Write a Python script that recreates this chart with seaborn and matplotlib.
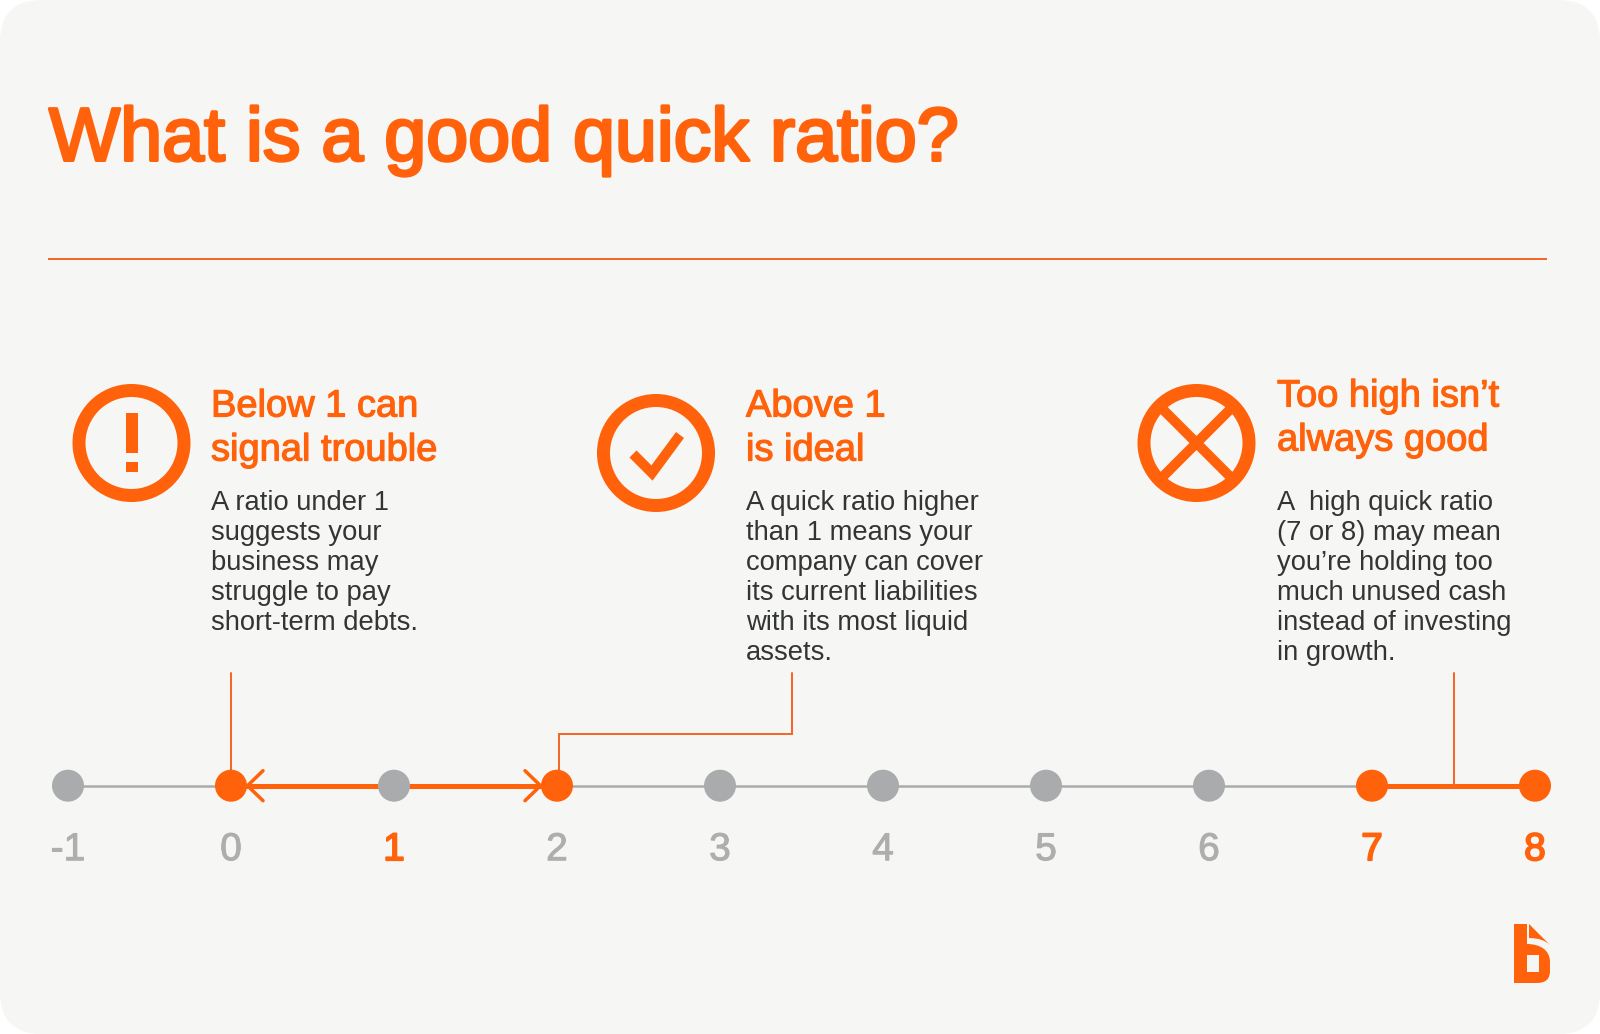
import pandas as pd
import seaborn as sns
import matplotlib.pyplot as plt
import matplotlib.patheffects as pe
from matplotlib.patches import Circle, FancyBboxPatch, PathPatch, Rectangle
from matplotlib.path import Path

# ---Chart values---
ratio_ticks = [-1, 0, 1, 2, 3, 4, 5, 6, 7, 8]
marked_ratios = [0, 2, 7, 8]
label_marked = [1, 7, 8]
ideal_range = [0, 2]
high_range = [7, 8]
high_pointer = 7.5

title_text = "What is a good quick ratio?"
headings = [["Below 1 can", "signal trouble"], ["Above 1", "is ideal"], ["Too high isn\u2019t", "always good"]]
bodies = [
    ["A ratio under 1", "suggests your", "business may", "struggle to pay", "short-term debts."],
    ["A quick ratio higher", "than 1 means your", "company can cover", "its current liabilities", "with its most liquid", "assets."],
    ["A  high quick ratio", "(7 or 8) may mean", "you\u2019re holding too", "much unused cash", "instead of investing", "in growth."],
]

ORANGE = "#FF620A"
THIN = "#F4682A"
GRAY = "#A9ABAC"
LABEL_GRAY = "#AEAEAE"
CARD = "#F6F6F4"
INK = "#333535"
W, H = 1600, 1034

sns.set_style("white")
plt.rcParams["font.family"] = ["Liberation Sans", "DejaVu Sans"]
fig = plt.figure(figsize=(16, 10.34), dpi=100, facecolor="white")


def lw(px):
    return px * 72 / 100


def heavy(px):
    # liberation has no medium weight, so thicken the regular one
    return [pe.Stroke(linewidth=lw(px)), pe.Normal()]


# ---Layout layer in pixels---
page = fig.add_axes([0, 0, 1, 1])
page.set_xlim(0, W)
page.set_ylim(H, 0)
page.axis("off")
page.add_patch(FancyBboxPatch((0, 0), W, H, boxstyle="round,pad=0,rounding_size=42", fc=CARD, ec="none"))
page.text(49, 160.5, title_text, color=ORANGE, fontsize=54.3, va="baseline", path_effects=heavy(3))
page.plot([48, 1547], [259, 259], color=THIN, lw=lw(2), solid_capstyle="butt")

head_x = [211, 746, 1277]
head_y = [[417, 461], [417, 461], [407, 451]]
for x, ys, lines in zip(head_x, head_y, headings):
    for y, line in zip(ys, lines):
        page.text(x, y - 0.5, line, color=ORANGE, fontsize=27.4, va="baseline", path_effects=heavy(1.2))
body_y = [510, 540, 570, 600, 630, 660]
for x, lines in zip(head_x, bodies):
    for y, line in zip(body_y, lines):
        page.text(x, y, line, color=INK, fontsize=19.7, va="baseline")

# ---Icons---
for cx, cy in [(131.5, 443), (656, 453), (1196.5, 443)]:
    page.add_patch(Circle((cx, cy), 52.5, fc="none", ec=ORANGE, lw=lw(13)))
page.add_patch(Rectangle((125.5, 413), 12, 40, fc=ORANGE, ec="none"))
page.add_patch(Rectangle((125.5, 462), 12, 10, fc=ORANGE, ec="none"))
page.plot([633, 652, 680], [454, 473, 435], color=ORANGE, lw=lw(10), solid_joinstyle="miter", solid_capstyle="butt")
for dx in [-37, 37]:
    page.plot([1196.5 - dx, 1196.5 + dx], [443 - 37, 443 + 37], color=ORANGE, lw=lw(10), solid_capstyle="butt")

# ---Logo---
logo = Path(
    [(1514, 924), (1527, 924), (1527, 944), (1540, 944), (1550, 950), (1550, 962), (1550, 971), (1550, 983), (1537, 983), (1514, 983), (1514, 924),
     (1527, 955), (1527, 972), (1539, 972), (1539, 955), (1527, 955)],
    [Path.MOVETO, Path.LINETO, Path.LINETO, Path.CURVE4, Path.CURVE4, Path.CURVE4, Path.LINETO, Path.CURVE3, Path.CURVE3, Path.LINETO, Path.CLOSEPOLY,
     Path.MOVETO, Path.LINETO, Path.LINETO, Path.LINETO, Path.CLOSEPOLY],
)
page.add_patch(PathPatch(logo, fc=ORANGE, ec="none"))
flap = Path(
    [(1529, 924), (1550, 945), (1543, 938), (1529, 938), (1529, 924)],
    [Path.MOVETO, Path.LINETO, Path.CURVE3, Path.CURVE3, Path.CLOSEPOLY],
)
page.add_patch(PathPatch(flap, fc=ORANGE, ec="none"))

# ---Number line: one ratio unit is 163 px, ratio 0 sits at x=231, line at y=785.7---
ax = fig.add_axes([0, 0, 1, 1], facecolor="none")
ax.set_xlim(-231 / 163, (W - 231) / 163)
ax.set_ylim(-(H - 785.7), 785.7)
ax.axis("off")

ax.plot([ratio_ticks[0], ratio_ticks[-1]], [0, 0], color=GRAY, lw=lw(2.5), zorder=1)
for rng in [ideal_range, high_range]:
    ax.plot(rng, [0, 0], color=ORANGE, lw=lw(5), zorder=2, solid_capstyle="butt")

# connectors from the text blocks, y is px above the line
ax.plot([ideal_range[0]] * 2, [112.7, 0], color=THIN, lw=lw(2), zorder=2)
stem_x = (792 - 231) / 163
ax.plot([stem_x, stem_x, ideal_range[1] + 0.01, ideal_range[1] + 0.01], [112.7, 51.7, 51.7, 0], color=THIN, lw=lw(2), zorder=2, solid_joinstyle="miter")
ax.plot([high_pointer] * 2, [112.7, 0], color=THIN, lw=lw(2), zorder=2)

# open arrow heads at both ends of the ideal range
tip = 16.5 / 163
back = 32 / 163
ax.plot([ideal_range[0] + back, ideal_range[0] + tip, ideal_range[0] + back], [15, 0, -15], color=ORANGE, lw=lw(3.5), zorder=3, solid_joinstyle="miter", solid_capstyle="round")
ax.plot([ideal_range[1] - back, ideal_range[1] - tip, ideal_range[1] - back], [15, 0, -15], color=ORANGE, lw=lw(3.5), zorder=3, solid_joinstyle="miter", solid_capstyle="round")

df = pd.DataFrame({"ratio": ratio_ticks, "line": [0] * len(ratio_ticks)})
df["marked"] = df["ratio"].isin(marked_ratios)
sns.scatterplot(data=df, x="ratio", y="line", hue="marked", palette={True: ORANGE, False: GRAY},
                s=531, linewidth=0, legend=False, ax=ax, zorder=4)

for v in ratio_ticks:
    is_marked = v in label_marked
    ax.text(v, -74.5, str(v), ha="center", va="baseline", fontsize=28, color=ORANGE if is_marked else LABEL_GRAY,
            path_effects=heavy(1.8 if is_marked else 1.0))

fig.savefig("out.png", dpi=100, facecolor="white")
